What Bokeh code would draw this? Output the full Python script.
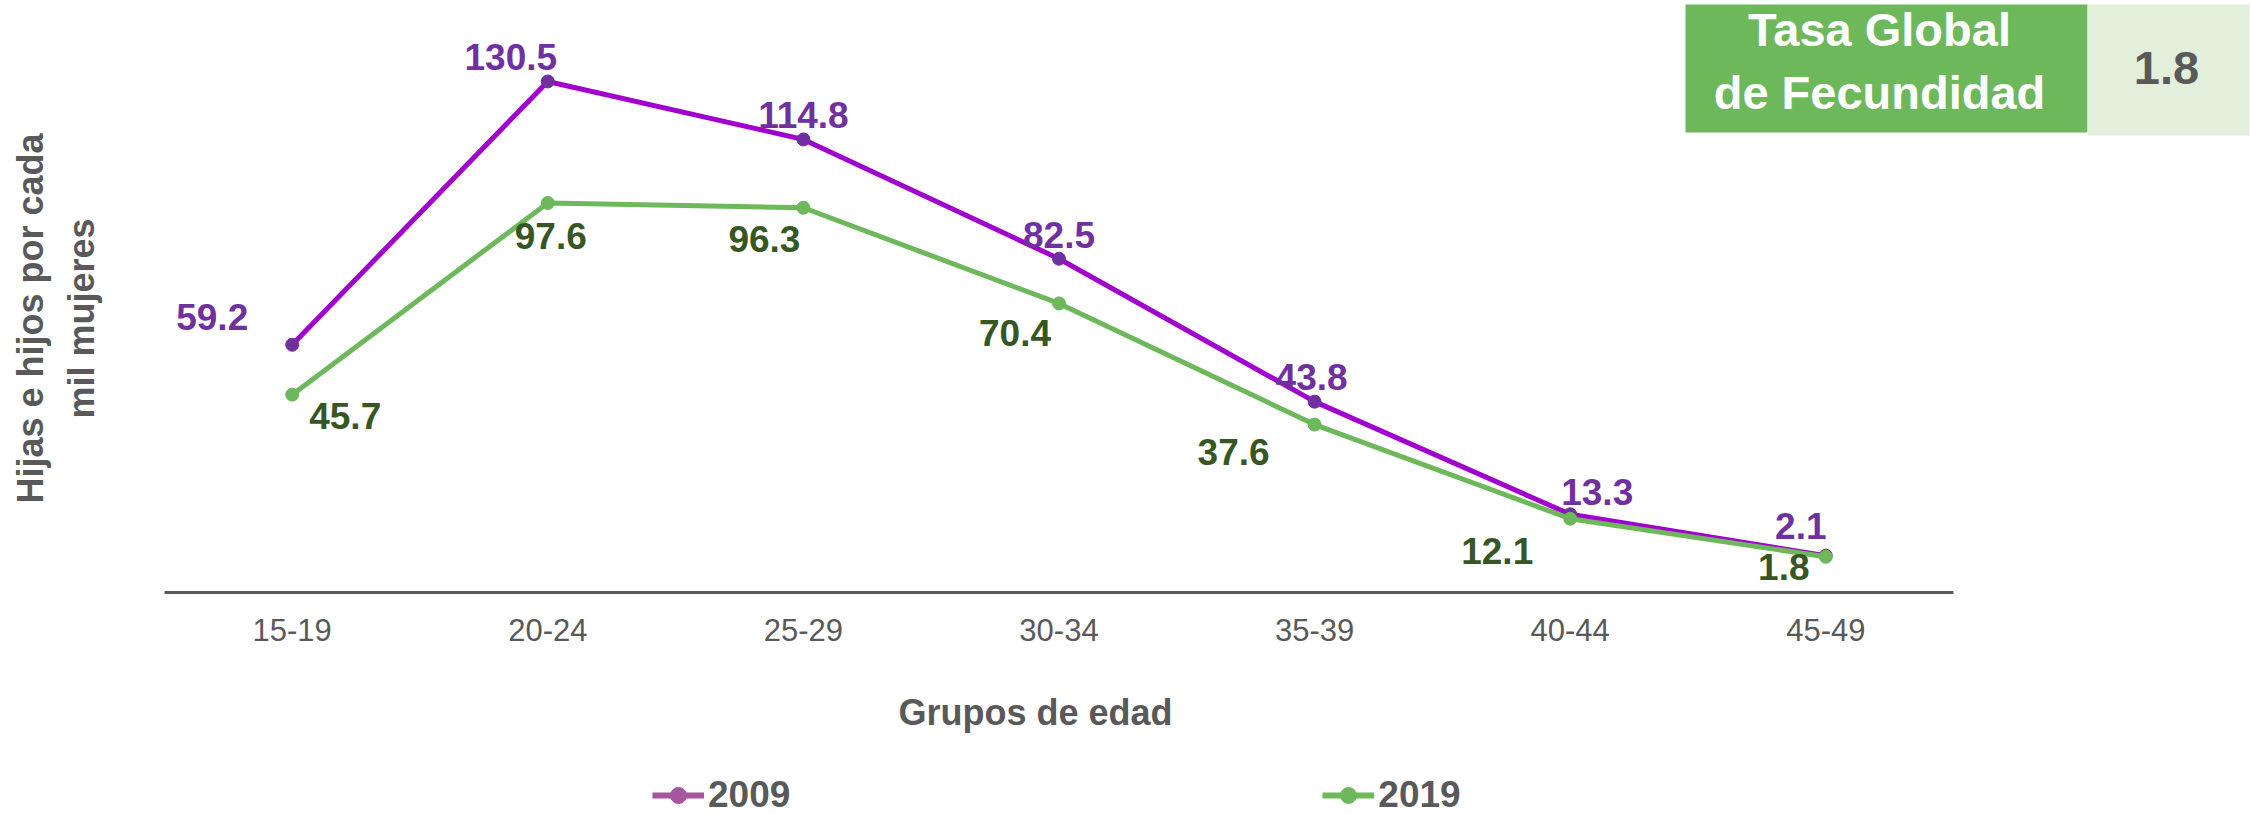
import math
from bokeh.plotting import figure
from bokeh.layouts import column
from bokeh.models import Range1d, FixedTicker, Label, Legend, LegendItem, ColumnDataSource
from bokeh.embed import file_html
from bokeh.resources import INLINE
from bokeh.core.properties import value

# ---------------- data ----------------
grupos = ["15-19", "20-24", "25-29", "30-34", "35-39", "40-44", "45-49"]
tasa_2009 = [59.2, 130.5, 114.8, 82.5, 43.8, 13.3, 2.1]
tasa_2019 = [45.7, 97.6, 96.3, 70.4, 37.6, 12.1, 1.8]
series = ["2009", "2019"]
tgf_titulo = ["Tasa Global", "de Fecundidad"]
tgf_valor = "1.8"
y_titulo = ["Hijas e hijos por cada", "mil mujeres"]
x_titulo = "Grupos de edad"

# ---------------- styles / positions ----------------
FONT = "Liberation Sans"
GRAY = "#595959"
C09_LINE, C09_MARK, C09_TEXT, C09_LEG = "#A100CF", "#7030A0", "#7030A0", "#A5569F"
C19_LINE, C19_MARK, C19_TEXT, C19_LEG = "#6DB85B", "#6DB85B", "#375623", "#6DB85B"
off_2009 = [(-80, -28), (-37, -24), (0, -24), (0, -24), (-3, -25), (27, -22), (-25, -30)]
off_2019 = [(53, 21), (3, 33), (-39, 31), (-44, 30), (-81, 27), (-73, 32), (-42, 10)]

W, H = 2251, 815
H1 = 660            # main chart figure height
FRAME_BOTTOM = 592  # y of the axis line
# page-pixel -> data helpers for annotation placement (calibrated to the layout)
X0, DXP, Y0, DYP = 291.7, 255.6, 562.9, 3.693
def px2x(px):
    return (px - X0) / DXP
def py2y(py):
    return (Y0 - py) / DYP

xs = list(range(len(grupos)))

p = figure(width=W, height=H1, output_backend="svg", toolbar_location=None,
           x_range=Range1d(px2x(0), px2x(W)), y_range=Range1d(py2y(FRAME_BOTTOM), py2y(0)),
           y_axis_location=None, min_border_left=0, min_border_right=0,
           min_border_top=0, min_border_bottom=H1 - FRAME_BOTTOM)
p.title.text = ""
p.outline_line_color = None
p.grid.visible = False
p.background_fill_color = "white"
p.border_fill_color = "white"

# x axis
ax = p.xaxis[0]
ax.ticker = FixedTicker(ticks=xs)
ax.major_label_overrides = {i: g for i, g in enumerate(grupos)}
ax.bounds = (xs[0] - 0.5, xs[-1] + 0.5)
ax.axis_line_color = GRAY
ax.axis_line_width = 3
ax.major_tick_line_color = None
ax.minor_tick_line_color = None
ax.major_tick_out = 0
ax.major_tick_in = 0
ax.major_label_standoff = 26
ax.major_label_text_font = FONT
ax.major_label_text_font_size = "31px"
ax.major_label_text_color = GRAY

# top-right box
p.quad(left=[px2x(1685)], right=[px2x(2087)], top=[py2y(4)], bottom=[py2y(132)],
       fill_color="#6DB85B", line_color=None)
p.quad(left=[px2x(2087)], right=[px2x(2249)], top=[py2y(4)], bottom=[py2y(135)],
       fill_color="#E2EFDA", line_color=None)
for txt, cy in zip(tgf_titulo, [29, 92]):
    p.add_layout(Label(x=px2x(1879), y=py2y(cy), text=txt, text_font=FONT,
                       text_font_style="bold", text_font_size="47px", text_color="white",
                       text_align="center", text_baseline="middle"))
p.add_layout(Label(x=px2x(2166), y=py2y(67), text=tgf_valor, text_font=FONT,
                   text_font_style="bold", text_font_size="47px", text_color=GRAY,
                   text_align="center", text_baseline="middle"))

# lines and markers
p.line(xs, tasa_2009, line_color=C09_LINE, line_width=5, line_join="round")
p.scatter(xs, tasa_2009, size=13, fill_color=C09_MARK, line_color=C09_MARK)
p.line(xs, tasa_2019, line_color=C19_LINE, line_width=5, line_join="round")
p.scatter(xs, tasa_2019, size=13, fill_color=C19_MARK, line_color=C19_MARK)

# data labels
for vals, offs, col in [(tasa_2009, off_2009, C09_TEXT), (tasa_2019, off_2019, C19_TEXT)]:
    src = ColumnDataSource(dict(x=xs, y=vals, t=[f"{v:.1f}" for v in vals],
                                ox=[o[0] for o in offs], oy=[o[1] for o in offs]))
    p.text(x="x", y="y", text="t", x_offset="ox", y_offset="oy", source=src,
           text_font=value(FONT), text_font_style="bold", text_font_size="37px",
           text_color=col, text_align="center", text_baseline="middle")

# y axis title (two rotated lines)
for txt, cx in zip(y_titulo, [30, 81]):
    p.add_layout(Label(x=px2x(cx), y=py2y(318), text=txt, angle=math.pi / 2,
                       text_font=FONT, text_font_style="bold", text_font_size="36px",
                       text_color=GRAY, text_align="center", text_baseline="middle"))

# ---------------- bottom strip: x title + legend ----------------
q = figure(width=W, height=H - H1, output_backend="svg", toolbar_location=None,
           x_range=Range1d(0, W), y_range=Range1d(H, H1),
           x_axis_location=None, y_axis_location=None,
           min_border_left=0, min_border_right=0, min_border_top=0, min_border_bottom=0)
q.title.text = ""
q.outline_line_color = None
q.grid.visible = False
q.background_fill_color = "white"
q.border_fill_color = "white"

q.add_layout(Label(x=1035, y=712, text=x_titulo, text_font=FONT,
                   text_font_style="bold", text_font_size="36px", text_color=GRAY,
                   text_align="center", text_baseline="middle"))

# legend proxies: the same series drawn in the strip (outside its visible range),
# styled with the legend colours
items = []
for name, vals, col in zip(series, [tasa_2009, tasa_2019], [C09_LEG, C19_LEG]):
    lr = q.line(x=xs, y=vals, line_color=col, line_width=6)
    sr = q.scatter(x=xs, y=vals, size=16, fill_color=col, line_color=col)
    items.append(LegendItem(label=name, renderers=[lr, sr]))
leg = Legend(items=items, orientation="horizontal", location=(652, -1),
             spacing=532, glyph_width=52, glyph_height=40, label_standoff=4,
             padding=0, margin=0, border_line_color=None, background_fill_alpha=0,
             label_text_font=FONT, label_text_font_style="bold",
             label_text_font_size="37px", label_text_color=GRAY)
q.add_layout(leg)

layout = column(p, q, spacing=0)
open("out.html", "w").write(file_html(layout, INLINE))
